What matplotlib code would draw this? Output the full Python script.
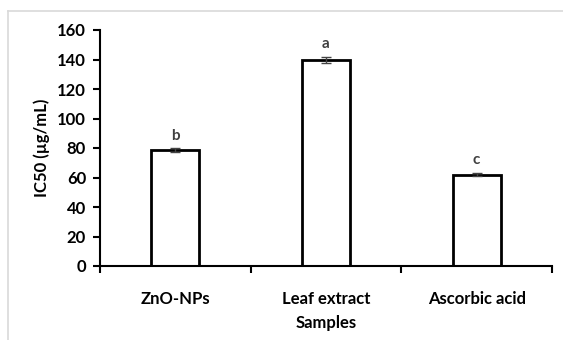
import matplotlib.pyplot as plt
from matplotlib.lines import Line2D

# data
samples = ["ZnO-NPs", "Leaf extract", "Ascorbic acid"]
ic50 = [78.5, 139.5, 62.0]
ic50_err = [1.2, 2.0, 1.3]
letters = ["b", "a", "c"]
y_ticks = [0, 20, 40, 60, 80, 100, 120, 140, 160]

plt.rcParams['font.family'] = ['Lato', 'DejaVu Sans']
plt.rcParams['font.weight'] = 'bold'

fig = plt.figure(figsize=(5.63, 3.40), dpi=100)
ax = fig.add_axes([100/563, 74/340, 452/563, 236/340])

x = list(range(len(samples)))
ax.bar(x, ic50, width=0.32, color='white', edgecolor='black', linewidth=2, zorder=2)
ax.errorbar(x, ic50, yerr=ic50_err, fmt='none', ecolor='#444444', elinewidth=1,
            capsize=3.5, capthick=1, zorder=3)
for xi, v, e, lt in zip(x, ic50, ic50_err, letters):
    ax.text(xi, v + e + 4, lt, ha='center', va='bottom', fontsize=11, fontweight='bold',
            color='#404040')

ax.set_xlim(-0.5, 2.5)
ax.set_ylim(0, 160)
ax.set_yticks(y_ticks)
ax.set_xticks([-0.5, 0.5, 1.5, 2.5])
ax.set_xticklabels([])
ax.set_xticks(x, minor=True)
ax.set_xticklabels(samples, minor=True, fontsize=12, fontweight='bold')
ax.tick_params(axis='x', which='minor', length=0, pad=18)
ax.tick_params(axis='x', which='major', length=5, width=1.5, direction='out')
ax.tick_params(axis='y', length=5, width=1.5, direction='out', labelsize=12, pad=5)
for lab in ax.get_yticklabels():
    lab.set_fontweight('bold')

ax.spines['top'].set_visible(False)
ax.spines['right'].set_visible(False)
ax.spines['left'].set_linewidth(1.5)
ax.spines['bottom'].set_linewidth(1.5)

ax.set_xlabel("Samples", fontsize=12, fontweight='bold', labelpad=6)
ax.set_ylabel("IC50 (µg/mL)", fontsize=12, fontweight='bold', labelpad=5)

# light grey frame of the chart area
fig.add_artist(Line2D([8/563, 1], [1 - 11/340, 1 - 11/340], color='#d9d9d9', lw=1.2))
fig.add_artist(Line2D([8/563, 8/563], [0, 1 - 11/340], color='#d9d9d9', lw=1.2))

fig.savefig("out.png", dpi=100)
